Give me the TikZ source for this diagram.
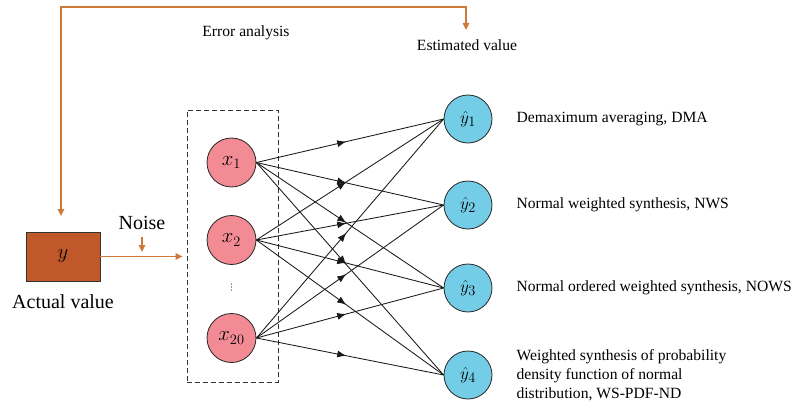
\documentclass[tikz,border=0pt]{standalone}
\usepackage{fontspec}
\setmainfont{Liberation Serif}
\usepackage{tikz}
\usetikzlibrary{arrows.meta,positioning,decorations.markings}
\definecolor{errline}{HTML}{D07A3A}
\definecolor{actfill}{HTML}{C0582A}
\definecolor{xfill}{HTML}{F28B94}
\definecolor{yfill}{HTML}{74CDE6}

\begin{document}
\begin{tikzpicture}[x=1pt, y=-1pt,
        font=\fontsize{15.6}{19}\selectfont,
        xin/.style={circle, draw=black!85, thick, fill=xfill, minimum size=49pt, inner sep=0pt, font=\fontsize{20}{24}\selectfont},
        yout/.style={circle, draw=black!85, thick, fill=yfill, minimum size=48pt, inner sep=0pt, font=\fontsize{19}{22}\selectfont},
        method/.style={inner sep=0pt, anchor=west, align=left},
        flow/.style={errline, line width=1.1pt, -{Triangle[length=7pt,width=6.5pt]}},
        link/.style={black!90, line width=0.85pt, postaction={decorate},
            decoration={markings, mark=at position 0.48 with {\arrow{Latex[length=9pt,width=7pt]}}}}
    ]
        \useasboundingbox (0,0) rectangle (796,404);

        % actual value and input layer
        \node[draw=black!80, thick, fill=actfill, minimum width=74pt, minimum height=49pt, font=\fontsize{21}{24}\selectfont] (act) at (63,256.5) {$y$};
        \node[inner sep=0pt, font=\fontsize{20}{24}\selectfont] (actlbl) at (63,302) {Actual value};
        \node[draw=black!80, line width=0.9pt, dash pattern=on 5pt off 3pt, minimum width=91pt, minimum height=272pt] (inbox) at (232.5,246) {};

        \node[xin] (x1) at (231.5,162.5) {$x_1$};
        \node[xin] (x2) at (231.5,240) {$x_2$};
        \node[xin] (x20) at (231.5,338) {$x_{20}$};
        % vertical dots between x2 and x20
        \foreach \k in {-3,0,3}
            \fill[black!80] (231.5,287+\k) circle (0.6pt);

        % output layer
        \node[yout] (y1) at (468,119) {$\hat{y}_1$};
        \node[yout] (y2) at (468,205) {$\hat{y}_2$};
        \node[yout] (y3) at (468,288) {$\hat{y}_3$};
        \node[yout] (y4) at (468,375) {$\hat{y}_4$};

        \node[method, right=24pt of y1] (dma) {Demaximum averaging, DMA};
        \node[method, right=24pt of y2] (nws) {Normal weighted synthesis, NWS};
        \node[method, right=24pt of y3] (nows) {Normal ordered weighted synthesis, NOWS};
        \node[method, right=24pt of y4] (wspdf) {Weighted synthesis of probability\\density function of normal\\distribution, WS-PDF-ND};

        % every input feeds every output
        \foreach \i in {x1,x2,x20}
            \foreach \j in {y1,y2,y3,y4}
                \draw[link] (\i.east) -- (\j.west);

        % noise and error feedback
        \node[inner sep=0pt, font=\fontsize{20}{24}\selectfont] (noise) at (142,223) {Noise};
        \coordinate (noisetip) at (142,252);
        \coordinate (esttip) at (466,30);
        \coordinate (acttip) at (61,216);
        \draw[flow] (act.east) -- ([xshift=-4pt]act.east -| inbox.west);
        \draw[flow] ([yshift=-7pt]noise.south) -- (noisetip);
        \draw[flow, {Triangle[length=7pt,width=6.5pt]}-{Triangle[length=7pt,width=6.5pt]}] (esttip) -- ++(0,-23) -| (acttip);

        \node (err) at (246,33) {Error analysis};
        \node (est) at (467,45) {Estimated value};
    \end{tikzpicture}
\end{document}
